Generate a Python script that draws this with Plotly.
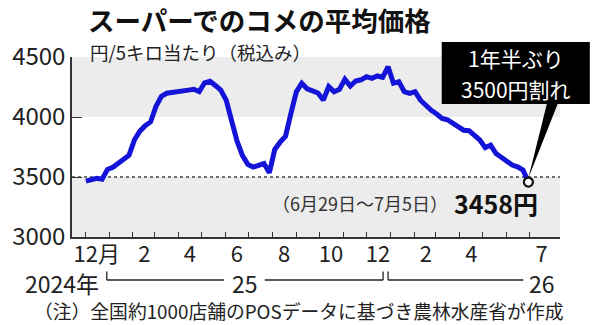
import pandas as pd
import plotly.graph_objects as go

# ---- data ----
weeks = pd.date_range("2024-12-02", "2026-06-29", freq="7D")  # week start (Mon)
prices = [3465, 3480, 3489, 3482, 3562, 3581, 3616, 3650, 3682, 3810,
          3882, 3928, 3960, 4090, 4172, 4198, 4207, 4213, 4219, 4224,
          4231, 4211, 4285, 4298, 4262, 4225, 4140, 3955, 3800, 3680,
          3605, 3583, 3595, 3612, 3536, 3730, 3790, 3840, 4030, 4210,
          4281, 4235, 4218, 4200, 4142, 4253, 4211, 4231, 4314, 4258,
          4300, 4310, 4336, 4322, 4342, 4331, 4419, 4281, 4294, 4211,
          4197, 4211, 4140, 4090, 4055, 4025, 3988, 3977, 3950, 3925,
          3890, 3886, 3850, 3808, 3745, 3765, 3695, 3665, 3630, 3600,
          3585, 3558, 3458]
month_starts = pd.date_range("2024-12-01", "2026-07-01", freq="MS")
label_months = ["2024-12", "2025-02", "2025-04", "2025-06", "2025-08", "2025-10",
                "2025-12", "2026-02", "2026-04", "2026-07"]
label_text = ["12月", "2", "4", "6", "8", "10", "12", "2", "4", "7"]
y_ticks = [3000, 3500, 4000, 4500]

FONT = "Noto Sans CJK JP"
BLUE = "#1414d8"
GRAY = "#ececec"
INK = "#222222"

x_range = [pd.Timestamp("2024-11-14"), pd.Timestamp("2026-08-09")]
y_range = [3000, 4500]

# plot area in pixels
L, R, T, B = 69, 560, 57, 237
def px_x(p):
    return (p - L) / (R - L)
def px_y(p):
    return (B - p) / (B - T)

label_vals = [pd.Timestamp(m + "-16") for m in label_months]

fig = go.Figure()
fig.add_trace(go.Scatter(x=weeks, y=prices, mode="lines",
                         line=dict(color=BLUE, width=5), hoverinfo="skip"))
fig.add_trace(go.Scatter(x=[weeks[-1]], y=[prices[-1]], mode="markers",
                         marker=dict(size=9, color="white",
                                     line=dict(color="#111", width=2.2)),
                         hoverinfo="skip"))

shapes = [
    dict(type="rect", xref="paper", yref="y", x0=0, x1=1, y0=4000, y1=4500,
         fillcolor=GRAY, line=dict(width=0), layer="below"),
    dict(type="rect", xref="paper", yref="y", x0=0, x1=1, y0=3000, y1=3500,
         fillcolor=GRAY, line=dict(width=0), layer="below"),
    dict(type="line", xref="paper", yref="y", x0=0, x1=1, y0=3500, y1=3500,
         line=dict(color="#444", width=1.5, dash="dot"), layer="below"),
    # callout box
    dict(type="rect", xref="paper", yref="paper", x0=px_x(441), x1=px_x(590),
         y0=px_y(104), y1=px_y(42), fillcolor="black", line=dict(width=0)),
]
# wedge pointer to last point
span = (x_range[1] - x_range[0]).total_seconds()
tx = (weeks[-1] - x_range[0]).total_seconds() / span
ty = (prices[-1] - y_range[0]) / (y_range[1] - y_range[0]) + 4 / (B - T)
shapes.append(dict(type="path", xref="paper", yref="paper",
                   path=f"M {px_x(547)},{px_y(103)} L {px_x(558)},{px_y(103)} L {tx},{ty} Z",
                   fillcolor="black", line=dict(width=0)))
# year brackets
yb, yt = px_y(280), px_y(271.5)
for seg in [(104, 222), (263, 382), (387, 523)]:
    shapes.append(dict(type="line", xref="paper", yref="paper",
                       x0=px_x(seg[0]), x1=px_x(seg[1]), y0=yb, y1=yb,
                       line=dict(color=INK, width=1.3)))
for xv in [104, 382, 387]:
    shapes.append(dict(type="line", xref="paper", yref="paper",
                       x0=px_x(xv), x1=px_x(xv), y0=yb, y1=yt,
                       line=dict(color=INK, width=1.3)))

def ann(text, x, y, size, xanchor="left", color=INK, bold=False):
    return dict(text=f"<b>{text}</b>" if bold else text, xref="paper", yref="paper",
                x=px_x(x), y=px_y(y), xanchor=xanchor, yanchor="middle",
                showarrow=False, font=dict(family=FONT, size=size, color=color))

annotations = [
    ann("スーパーでのコメの平均価格", 83, 19.2, 26.5, bold=True, color="#111"),
    ann("円/5キロ当たり（税込み）", 85, 52.2, 18.5),
    ann("1年半ぶり", 516, 58, 21, xanchor="center", color="white"),
    ann("3500円割れ", 516, 89, 21, xanchor="center", color="white"),
    ann("（6月29日～7月5日）", 268, 203, 18, color="#333"),
    ann(f"{prices[-1]}円", 451, 203, 25, bold=True, color="#111"),
    ann("2024年", 98, 283, 23, xanchor="right"),
    ann("25", 243, 283, 23, xanchor="center"),
    ann("26", 542, 283, 23, xanchor="center"),
    ann("（注）全国約1000店舗のPOSデータに基づき農林水産省が作成", 297, 310, 18.8,
        xanchor="center"),
]

fig.update_layout(
    width=600, height=325,
    margin=dict(l=L, r=600 - R, t=T, b=325 - B),
    paper_bgcolor="white", plot_bgcolor="white",
    showlegend=False,
    shapes=shapes, annotations=annotations,
    font=dict(family=FONT, color=INK),
)
fig.update_xaxes(
    type="date", range=x_range, showgrid=False, zeroline=False,
    showline=True, linecolor="#333", linewidth=1.5,
    tickmode="array", tickvals=label_vals, ticktext=label_text, ticks="",
    ticklabelstandoff=-3,
    tickfont=dict(family=FONT, size=22, color=INK),
    minor=dict(tickmode="array", tickvals=list(month_starts), ticks="inside",
               ticklen=5, tickcolor="#333", tickwidth=1.3, showgrid=False),
)
fig.update_yaxes(
    range=y_range, showgrid=False, zeroline=False,
    showline=True, linecolor="#333", linewidth=1.5,
    tickmode="array", tickvals=y_ticks, ticks="inside", ticklen=10,
    tickcolor="#333", tickwidth=1.3,
    tickfont=dict(family=FONT, size=24, color=INK),
)

fig.write_html("out.html")
